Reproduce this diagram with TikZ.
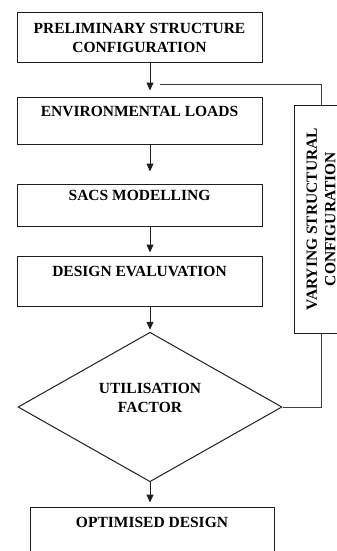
\documentclass[tikz,border=0pt]{standalone}
\usepackage{fontspec}
\setmainfont{Liberation Serif}
\usetikzlibrary{arrows.meta,shapes.geometric}
\definecolor{ink}{RGB}{30,30,30}
\tikzset{
  blk/.style={draw=ink,line width=1pt,minimum width=245pt,minimum height=#1,inner sep=0pt,
              font=\bfseries\fontsize{15.5}{18.5}\selectfont,align=center},
  blk/.default=50pt,
  dia/.style={diamond,draw=ink,line width=1pt,minimum width=264pt,minimum height=138pt,
              inner sep=0pt,font=\bfseries\fontsize{15.5}{18.5}\selectfont,align=center},
  ar/.style={-{Triangle[length=8pt,width=7pt]},draw=ink,line width=1pt},
  ln/.style={draw=ink!85,line width=1pt},
}
\begin{document}
\begin{tikzpicture}[x=1pt,y=-1pt]
    \useasboundingbox (0,0) rectangle (337,551);
    \clip (0,0) rectangle (337,551);
    \node[blk] (b1) at (139.5,38) {PRELIMINARY STRUCTURE\\CONFIGURATION};
    \node[blk=47pt] (b2) at (139.5,120.5) {ENVIRONMENTAL LOADS\\~};
    \node[blk=42pt] (b3) at (139.5,205) {SACS MODELLING\\~};
    \node[blk] (b4) at (139.5,281) {DESIGN EVALUVATION\\~};
    \node[dia] (dm) at (150,407) {UTILISATION\\FACTOR\\~};
    \node[blk,minimum width=244pt] (b5) at (152,532) {OPTIMISED DESIGN\\~};
    % side box is rotated: its east is the top, its west the bottom
    \node[blk=54pt,minimum width=228pt,rotate=90] (vb) at (321,219)
      {VARYING STRUCTURAL\\CONFIGURATION};
    \coordinate (fb) at (160,84);
    \draw[ar,shorten >=6pt] (b1.south -| dm.north) -- (b2.north -| dm.north);
    \draw[ar,shorten >=12pt] (b2.south -| dm.north) -- (b3.north -| dm.north);
    \draw[ar,shorten >=3pt] (b3.south -| dm.north) -- (b4.north -| dm.north);
    \draw[ar,shorten >=2pt] (b4.south -| dm.north) -- (dm.north);
    \draw[ar,shorten >=4pt] (dm.south) -- (b5.north -| dm.south);
    \draw[ln] (dm.east) -| (vb.west);
    \draw[ln] (vb.east) |- (fb);
\end{tikzpicture}
\end{document}
